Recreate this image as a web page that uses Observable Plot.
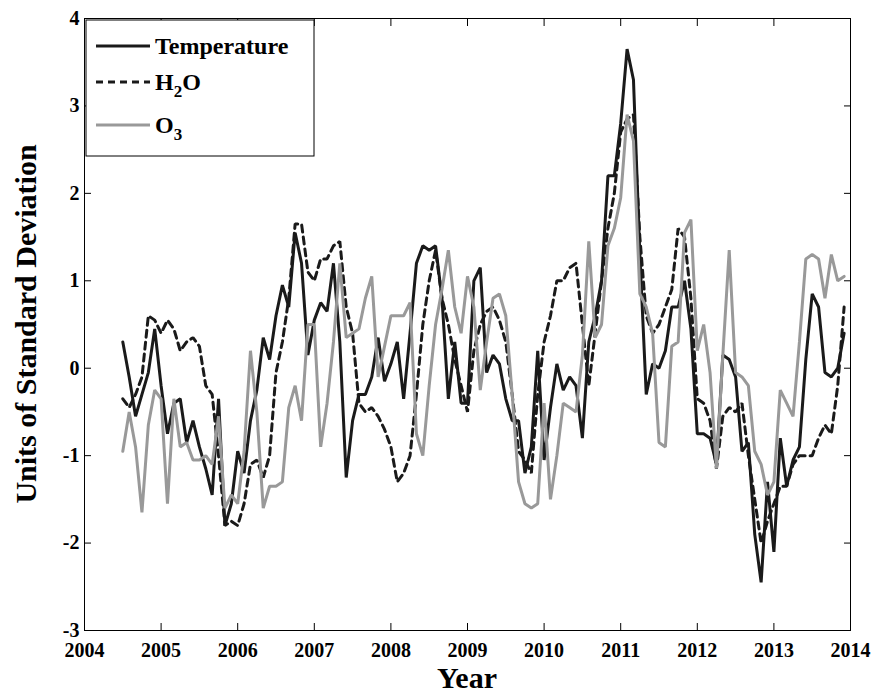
<!DOCTYPE html>
<html><head><meta charset="utf-8">
<script src="https://cdn.jsdelivr.net/npm/d3@7"></script>
<script src="https://cdn.jsdelivr.net/npm/@observablehq/plot@0.6"></script>
<style>body{margin:0;background:#fff;font-family:"Liberation Serif",serif}#wrap{position:relative;width:872px;height:695px}
svg g[aria-label$="tick label"], svg g[aria-label$="tick label"] text{font-size:20px !important;font-weight:bold !important;font-family:"Liberation Serif" !important}</style>
</head><body><div id="wrap"></div>
<script>
const startYear = 2004.5;
const temperature = [0.3,-0.1,-0.55,-0.3,-0.05,0.45,-0.2,-0.75,-0.4,-0.35,
-0.85,-0.6,-0.9,-1.15,-1.45,-0.35,-1.8,-1.55,-0.95,-1.2,
-0.6,-0.25,0.35,0.1,0.6,0.95,0.7,1.55,1.2,0.15,
0.55,0.75,0.65,1.2,0.3,-1.25,-0.6,-0.3,-0.3,-0.1,
0.35,-0.15,0.05,0.3,-0.35,0.4,1.2,1.4,1.35,1.4,
0.8,-0.35,0.3,-0.4,-0.4,1.0,1.15,-0.05,0.15,0.05,
-0.35,-0.6,-0.6,-1.2,-0.9,0.2,-1.05,-0.45,0.05,-0.25,-0.1,
-0.2,-0.8,0.3,0.6,1.0,2.2,2.2,2.8,3.65,3.3,1.3,
-0.3,0.05,0.0,0.2,0.7,0.7,1.0,0.45,-0.75,-0.75,
-0.8,-1.1,0.15,0.1,-0.1,-0.95,-0.85,-1.9,-2.45,-1.3,
-2.1,-0.8,-1.35,-1.05,-0.9,0.1,0.85,0.7,-0.05,-0.1,0.0,0.4];
const h2o = [-0.35,-0.45,-0.3,-0.1,0.6,0.55,0.4,0.55,0.45,0.2,
0.3,0.35,0.25,-0.2,-0.3,-1.0,-1.8,-1.75,-1.8,-1.55,
-1.1,-1.05,-1.25,-1.0,-0.05,0.3,0.8,1.65,1.65,1.1,
1.0,1.25,1.25,1.4,1.45,0.7,0.4,-0.4,-0.5,-0.45,
-0.55,-0.7,-0.9,-1.3,-1.2,-1.0,-0.3,0.5,1.0,1.35,
0.8,0.5,0.1,-0.2,-0.5,0.2,0.5,0.65,0.7,0.55,
0.3,-0.3,-0.95,-1.05,-1.2,-0.3,0.3,0.6,1.0,1.0,1.15,1.2,
0.5,-0.2,0.4,1.0,1.6,2.0,2.7,2.85,2.9,1.5,
0.6,0.4,0.5,0.7,0.9,1.6,1.5,0.8,-0.35,-0.4,
-0.6,-1.15,-0.55,-0.45,-0.5,-0.4,-1.0,-1.5,-2.0,-1.75,
-1.55,-1.35,-1.35,-1.1,-1.0,-1.0,-1.0,-0.8,-0.65,-0.75,-0.2,0.7];
const o3 = [-0.95,-0.5,-0.9,-1.65,-0.65,-0.25,-0.35,-1.55,-0.35,-0.9,
-0.85,-1.05,-1.05,-1.0,-1.1,-0.55,-1.6,-1.45,-1.55,-0.95,
0.2,-0.5,-1.6,-1.35,-1.35,-1.3,-0.45,-0.2,-0.6,0.5,0.5,
-0.9,-0.4,0.3,1.2,0.35,0.4,0.45,0.8,1.05,-0.1,
0.25,0.6,0.6,0.6,0.75,-0.75,-1.0,-0.2,0.5,0.9,1.35,
0.7,0.4,1.05,0.7,-0.25,0.3,0.8,0.85,0.6,-0.3,
-1.3,-1.55,-1.6,-1.55,-0.4,-1.5,-1.0,-0.4,-0.45,-0.5,0.15,
1.45,0.35,0.5,1.4,1.6,1.95,2.9,2.6,0.85,0.7,
0.4,-0.85,-0.9,0.25,0.3,1.55,1.7,0.2,0.5,-0.05,
-1.15,0.15,1.35,-0.05,-0.1,-0.2,-0.95,-1.1,-1.45,-1.3,
-0.25,-0.4,-0.55,0.3,1.25,1.3,1.25,0.8,1.3,1.0,1.05];
const xTicks = [2004,2005,2006,2007,2008,2009,2010,2011,2012,2013,2014];
const yTicks = [-3,-2,-1,0,1,2,3,4];
const series = [
  {name:"Temperature", values:temperature, stroke:"#1a1a1a", dash:null},
  {name:"H2O", values:h2o, stroke:"#1a1a1a", dash:"7,5"},
  {name:"O3", values:o3, stroke:"#999999", dash:null}
];
const toRows = s => s.values.map((v,i)=>({x:startYear+i/12, y:v}));
const chart = Plot.plot({
  width:872, height:695, marginLeft:84, marginRight:22, marginTop:18, marginBottom:65,
  style:{fontFamily:"Liberation Serif", fontSize:"18px", fontWeight:"bold", color:"#000", background:"#fff"},
  x:{domain:[2004,2014]}, y:{domain:[-3,4]},
  marks:[
    Plot.frame({stroke:"#000", strokeWidth:1}),
    Plot.axisX({ticks:xTicks, tickFormat:d=>String(d), tickSize:-7, tickPadding:19, label:null}),
    Plot.axisX({ticks:xTicks, anchor:"top", tickSize:-7, tickFormat:()=>"" , label:null}),
    Plot.axisY({ticks:yTicks, tickFormat:d=>String(d), tickSize:-7, tickPadding:12, label:null}),
    Plot.axisY({ticks:yTicks, anchor:"right", tickSize:-7, tickFormat:()=>"", label:null}),
    ...series.map(s=>Plot.line(toRows(s),{x:"x",y:"y",stroke:s.stroke,strokeWidth:3,strokeDasharray:s.dash,strokeLinejoin:"miter"}))
  ]
});
const wrap = document.getElementById("wrap");
wrap.appendChild(chart);
const ns="http://www.w3.org/2000/svg";
function txt(t,x,y,rot,size){const e=document.createElementNS(ns,"text");e.setAttribute("x",x);e.setAttribute("y",y);e.setAttribute("text-anchor","middle");e.setAttribute("style",`font-size:${size}px`);e.setAttribute("font-weight","bold");e.setAttribute("font-family","Liberation Serif");if(rot)e.setAttribute("transform",`rotate(-90 ${x} ${y})`);e.innerHTML=t;chart.appendChild(e);}
txt("Year",467,688,false,30);
txt("Units of Standard Deviation",36,324,true,30);
const lg=document.createElementNS(ns,"g");
lg.setAttribute("text-anchor","start");
lg.innerHTML=`<rect x="86" y="20" width="228" height="136" fill="#fff" stroke="#000" stroke-width="1"/>`+
 series.map((s,i)=>{const y=[46,82,125][i];const lab=["Temperature","H<tspan dy='7' style='font-size:17px'>2</tspan><tspan dy='-7'>O</tspan>","O<tspan dy='7' style='font-size:17px'>3</tspan>"][i];
 return `<line x1="96" x2="150" y1="${y}" y2="${y}" stroke="${s.stroke}" stroke-width="3" ${s.dash?`stroke-dasharray="${s.dash}"`:""}/>`+
 `<text x="155" y="${y+8}" text-anchor="start" style="font-size:24px" font-weight="bold" font-family="Liberation Serif">${lab}</text>`}).join("");
chart.appendChild(lg);
</script></body></html>
